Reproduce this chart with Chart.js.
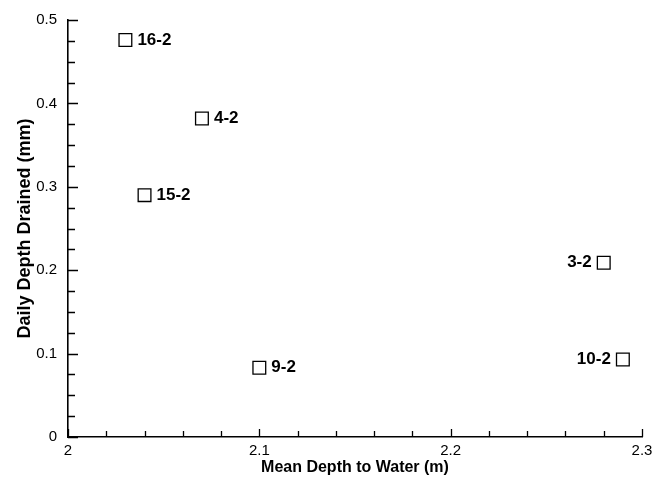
<!DOCTYPE html>
<html><head><meta charset="utf-8">
<script src="https://cdn.jsdelivr.net/npm/chart.js@4"></script>
<style>html,body{margin:0;padding:0;background:#fff}</style>
</head><body>
<canvas id="c" width="667" height="478"></canvas>
<script>
const wellNames = ['16-2', '4-2', '15-2', '9-2', '3-2', '10-2'];
const meanDepthToWater = [2.03, 2.07, 2.04, 2.10, 2.28, 2.29];
const dailyDepthDrained = [0.476, 0.382, 0.290, 0.083, 0.209, 0.093];
const xMin = 2, xMax = 2.3, xStep = 0.02;
const yMin = 0, yMax = 0.5, yStep = 0.025;

const FONT = '"Liberation Sans", Arial, Helvetica, sans-serif';

function isMajor(v) {
  return Math.abs(v * 10 - Math.round(v * 10)) < 1e-6;
}
function fmt(v) {
  return isMajor(v) ? String(+(+v).toFixed(1)) : '';
}

const inwardTicks = {
  id: 'inwardTicks',
  afterDraw(chart) {
    const ctx = chart.ctx, a = chart.chartArea;
    const xs = chart.scales.x, ys = chart.scales.y;
    ctx.save();
    ctx.strokeStyle = '#000';
    ctx.lineWidth = 1.3;
    ctx.beginPath();
    xs.ticks.forEach(t => {
      const px = Math.round(xs.getPixelForValue(t.value)) + 0.5;
      const len = isMajor(t.value) ? 8 : 6;
      ctx.moveTo(px, a.bottom);
      ctx.lineTo(px, a.bottom - len);
    });
    ys.ticks.forEach(t => {
      const py = Math.round(ys.getPixelForValue(t.value)) + 0.5;
      const len = isMajor(t.value) ? 10 : 7;
      ctx.moveTo(a.left, py);
      ctx.lineTo(a.left + len, py);
    });
    ctx.stroke();
    ctx.restore();
  }
};

const pointLabels = {
  id: 'pointLabels',
  afterDatasetsDraw(chart) {
    const ctx = chart.ctx;
    const meta = chart.getDatasetMeta(0);
    ctx.save();
    ctx.font = 'bold 17px ' + FONT;
    ctx.fillStyle = '#000';
    ctx.textBaseline = 'middle';
    meta.data.forEach((el, i) => {
      const onRight = meanDepthToWater[i] > 2.2;
      if (onRight) {
        ctx.textAlign = 'right';
        ctx.fillText(wellNames[i], el.x - 12, el.y);
      } else {
        ctx.textAlign = 'left';
        ctx.fillText(wellNames[i], el.x + 12, el.y);
      }
    });
    ctx.restore();
  }
};

new Chart(document.getElementById('c'), {
  type: 'scatter',
  data: {
    datasets: [{
      data: meanDepthToWater.map((x, i) => ({ x: x, y: dailyDepthDrained[i] })),
      pointStyle: 'rect',
      pointRadius: 9,
      pointHoverRadius: 9,
      borderColor: '#000',
      backgroundColor: 'rgba(255,255,255,0)',
      borderWidth: 1.3,
      clip: false
    }]
  },
  options: {
    responsive: false,
    animation: false,
    devicePixelRatio: 1,
    layout: { padding: { left: 0, right: 25, top: 16, bottom: 0 } },
    plugins: { legend: { display: false }, tooltip: { enabled: false } },
    scales: {
      x: {
        type: 'linear',
        min: xMin, max: xMax,
        grid: { display: false, drawTicks: false },
        border: { display: true, color: '#000', width: 1.6 },
        ticks: {
          stepSize: xStep, autoSkip: false, maxRotation: 0,
          color: '#000', padding: 5,
          font: { family: FONT, size: 15 },
          callback: v => fmt(v)
        },
        title: {
          display: true, text: 'Mean Depth to Water (m)', color: '#000',
          font: { family: FONT, size: 16, weight: 'bold' },
          padding: { top: 0, bottom: 1 }
        },
        afterFit(s) { s.height = 41; }
      },
      y: {
        type: 'linear',
        min: yMin, max: yMax,
        grid: { display: false, drawTicks: false },
        border: { display: true, color: '#000', width: 1.6 },
        ticks: {
          stepSize: yStep, autoSkip: false,
          color: '#000', padding: 11,
          font: { family: FONT, size: 15 },
          callback: v => fmt(v)
        },
        title: {
          display: true, text: 'Daily Depth Drained (mm)', color: '#000',
          font: { family: FONT, size: 18, weight: 'bold' },
          padding: { top: 14, bottom: 0 }
        },
        afterFit(s) { s.width = 68; }
      }
    }
  },
  plugins: [inwardTicks, pointLabels]
});
</script>
</body></html>
